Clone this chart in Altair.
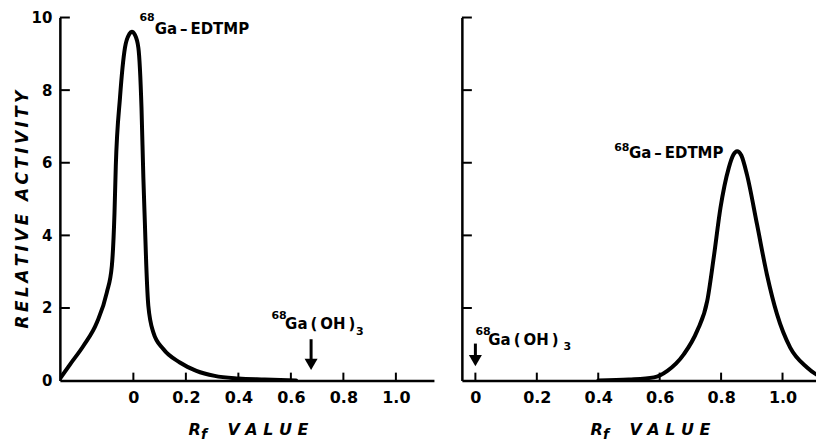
import altair as alt
import pandas as pd

# ---------------- data ----------------
# Left panel: 68Ga-EDTMP stays at origin
left_rf = [-0.280, -0.241, -0.190, -0.139, -0.101, -0.082, -0.072, -0.067, -0.051, -0.032,
           -0.015, -0.006, 0.006, 0.019, 0.031, 0.038, 0.044, 0.049, 0.057, 0.076,
           0.114, 0.177, 0.240, 0.310, 0.400, 0.500, 0.620]
left_act = [0.05, 0.45, 0.96, 1.60, 2.43, 3.16, 4.60, 5.90, 7.79, 9.17,
            9.55, 9.61, 9.52, 9.17, 7.50, 5.60, 4.30, 3.20, 2.06, 1.33,
            0.87, 0.50, 0.27, 0.13, 0.06, 0.03, 0.00]

# Right panel: 68Ga-EDTMP migrates with solvent front
right_rf = [0.400, 0.500, 0.581, 0.625, 0.679, 0.722, 0.755, 0.776, 0.798, 0.825,
            0.840, 0.852, 0.866, 0.884, 0.917, 0.949, 0.982, 1.025, 1.079, 1.128, 1.160]
right_act = [0.00, 0.03, 0.09, 0.27, 0.73, 1.37, 2.20, 3.39, 4.76, 5.86,
             6.22, 6.32, 6.20, 5.68, 4.30, 2.93, 1.83, 0.91, 0.37, 0.09, 0.02]

x_ticks = [0, 0.2, 0.4, 0.6, 0.8, 1.0]
y_ticks = [0, 2, 4, 6, 8, 10]

sup_mass = ["68"]
label_edtmp = ["Ga\u2009\u2013\u2009EDTMP"]
label_oh = ["Ga\u2009(\u2009OH\u2009)"]
sub_three = ["3"]
y_title = "\u2009".join("RELATIVE") + "\u2009 \u2009" + "\u2009".join("ACTIVITY")
x_title_main = ["R"]
x_title_sub = ["f"]
x_title_rest = ["V A L U E"]

# ---------------- styling ----------------
FONT = "DejaVu Sans"
H = 364
W_L, W_R = 375, 355
XDOM_L = [-0.28, 1.145]
XDOM_R = [-0.044, 1.109]
YDOM = [0, 10]


def text_layer(labels, x, y, size, italic=False, align="left", baseline="middle"):
    return alt.Chart(pd.DataFrame({"label": labels})).mark_text(
        font=FONT, fontSize=size, fontWeight="bold",
        fontStyle="italic" if italic else "normal",
        align=align, baseline=baseline, color="black",
    ).encode(x=x, y=y, text="label:N")


def panel(rf, act, xdom, width, show_y, ann, arrow):
    xs = alt.Scale(domain=xdom, nice=False, zero=False)
    ys = alt.Scale(domain=YDOM, nice=False, zero=False)
    xaxis = alt.Axis(values=x_ticks, ticks=False, tickSize=0, grid=False,
                     domainColor="black", domainWidth=2.5,
                     labelExpr="datum.value == 0 ? '0' : format(datum.value, '.1f')",
                     labelFont=FONT, labelFontSize=16, labelFontWeight="bold",
                     labelColor="black", labelPadding=9, labelFlush=False,
                     labelOverlap=False)
    if show_y:
        yaxis = alt.Axis(values=y_ticks, ticks=False, tickSize=0, grid=False,
                         domainColor="black", domainWidth=2.5,
                         labelFont=FONT, labelFontSize=15, labelFontWeight="bold",
                         labelColor="black", labelPadding=8, labelFlush=False,
                         labelOverlap=False,
                         titleFont=FONT, titleFontSize=17, titleFontWeight="bold",
                         titleFontStyle="italic", titleColor="black",
                         titleAngle=270, titleX=-37, titleY=192,
                         titleAlign="center", titleBaseline="middle")
        ytitle = y_title
    else:
        yaxis = alt.Axis(values=y_ticks, ticks=False, tickSize=0, grid=False,
                         labels=False, domainColor="black", domainWidth=2.5)
        ytitle = None

    curve = alt.Chart(pd.DataFrame({"rf": rf, "act": act})).mark_line(
        color="black", strokeWidth=4, interpolate="monotone", clip=True,
        strokeJoin="round", strokeCap="round",
    ).encode(
        x=alt.X("rf:Q", scale=xs, axis=xaxis, title=None),
        y=alt.Y("act:Q", scale=ys, axis=yaxis, title=ytitle),
    )

    xt = alt.Chart(pd.DataFrame({"t": x_ticks})).mark_rule(color="black", strokeWidth=2).encode(
        x=alt.X("t:Q", scale=xs, title=None), y=alt.value(H), y2=alt.value(H - 8))
    yt = alt.Chart(pd.DataFrame({"t": y_ticks[1:]})).mark_rule(color="black", strokeWidth=2).encode(
        y=alt.Y("t:Q", scale=ys, title=ytitle), x=alt.value(0), x2=alt.value(10))

    layers = [curve, xt, yt]
    # annotations (positions in data coordinates)
    (e68, eGa, o68, oGa, o3) = ann
    layers += [
        text_layer(sup_mass, alt.datum(e68[0]), alt.datum(e68[1]), 11),
        text_layer(label_edtmp, alt.datum(eGa[0]), alt.datum(eGa[1]), 15),
        text_layer(sup_mass, alt.datum(o68[0]), alt.datum(o68[1]), 11),
        text_layer(label_oh, alt.datum(oGa[0]), alt.datum(oGa[1]), 15),
        text_layer(sub_three, alt.datum(o3[0]), alt.datum(o3[1]), 11),
    ]
    ax, ay1, ay2, ahead = arrow
    layers += [
        alt.Chart(pd.DataFrame({"a": [0]})).mark_rule(color="black", strokeWidth=3).encode(
            x=alt.datum(ax), y=alt.datum(ay1), y2=alt.datum(ay2)),
        alt.Chart(pd.DataFrame({"a": [0]})).mark_point(
            shape="triangle-down", filled=True, color="black", size=170, opacity=1).encode(
            x=alt.datum(ax), y=alt.datum(ahead)),
    ]
    # x-axis title  R_f VALUE
    layers += [
        text_layer(x_title_main, alt.value(129), alt.value(H + 55), 16, italic=True,
                   baseline="alphabetic"),
        text_layer(x_title_sub, alt.value(141.5), alt.value(H + 59), 14, italic=True,
                   baseline="alphabetic"),
        text_layer(x_title_rest, alt.value(168), alt.value(H + 55), 16, italic=True,
                   baseline="alphabetic"),
    ]
    return alt.layer(*layers).properties(width=width, height=H)


left = panel(left_rf, left_act, XDOM_L, W_L, True,
             ((0.023, 9.99), (0.081, 9.67), (0.526, 1.79), (0.578, 1.57), (0.848, 1.35)),
             (0.677, 1.14, 0.55, 0.45))
right = panel(right_rf, right_act, XDOM_R, W_R, False,
              ((0.452, 6.41), (0.500, 6.27), (0.000, 1.34), (0.042, 1.13), (0.287, 0.92)),
              (0.0, 1.02, 0.65, 0.55))

chart = alt.hconcat(left, right, spacing=27).resolve_scale(
    x="independent", y="independent"
).properties(
    padding={"left": 5, "top": 2, "right": 0, "bottom": 0},
    background="white",
).configure_view(stroke=None)

chart.save("out.html", embed_options={"renderer": "svg", "actions": False})
